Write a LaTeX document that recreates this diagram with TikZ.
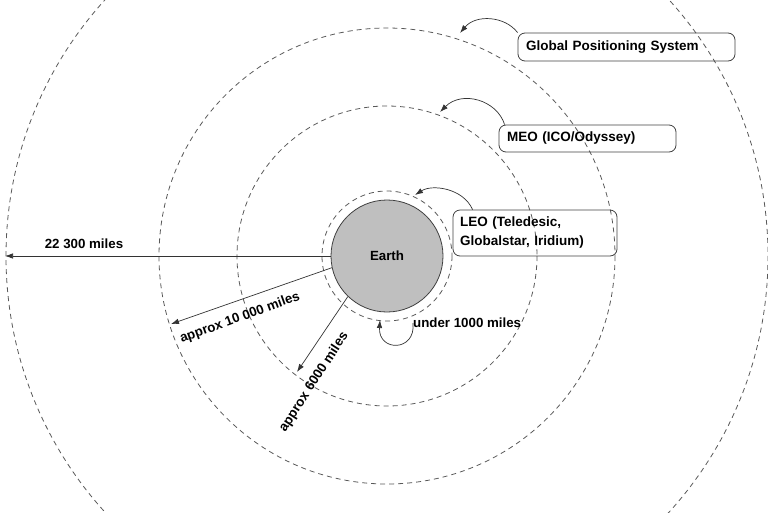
\documentclass[tikz,border=0pt]{standalone}
\usepackage{fontspec}
\setmainfont{Liberation Sans}
\usetikzlibrary{arrows.meta}
\begin{document}
\begin{tikzpicture}[x=1pt,y=-1pt,
  orbit/.style={draw=black!65, dash pattern=on 5pt off 4pt, line width=0.8pt},
  lbl/.style={font=\fontsize{13.3}{19}\selectfont\bfseries, inner sep=0pt},
  infobox/.style={draw=black!75, rounded corners=7pt, line width=0.8pt, align=left,
     font=\fontsize{13.5}{19}\selectfont\bfseries, inner ysep=0pt},
  conn/.style={draw=black!80, line width=0.7pt, -{Latex[length=8pt,width=5.5pt]}}
]
\useasboundingbox (0,0) rectangle (768,512);
% orbits
\draw[orbit] (387,256) circle[radius=65];
\draw[orbit] (387,256) circle[radius=150];
\draw[orbit] (387,256) circle[radius=228];
\draw[orbit] (387,256) circle[radius=381];
% earth
\node[circle, draw=black!75, line width=0.8pt, fill=black!25, minimum size=112pt, inner sep=0pt,
  font=\fontsize{13.3}{16}\selectfont\bfseries] (earth) at (387,256) {Earth};
% info boxes
\node[infobox, text width=201pt, inner xsep=8pt, minimum height=28pt] (gps) at (626.5,47) {Global Positioning System};
\node[infobox, text width=161pt, inner xsep=8pt, minimum height=27pt] (meo) at (587.5,138.5) {MEO (ICO/Odyssey)};
\node[infobox, text width=150pt, inner xsep=7pt, minimum height=46pt] (leo) at (535,233) {LEO (Teledesic,\\Globalstar, Iridium)};
% orbit target points
\coordinate (gpsT) at (460,33);
\coordinate (meoT) at (440,112);
\coordinate (leoT) at (415,195);
\coordinate (lowT) at (380,320);
\draw[conn] (gps.north west) .. controls (505,16) and (476,14) .. (gpsT);
\draw[conn] ([xshift=6pt]meo.north west) .. controls (497,100) and (462,90) .. (meoT);
\draw[conn] ([xshift=20pt]leo.north west) .. controls (463,188) and (432,184) .. (leoT);
% under 1000 miles
\node[lbl, anchor=west] (under) at (413,323) {under 1000 miles};
\draw[conn] (under.west) .. controls (416,352) and (378,352) .. (lowT);
% distance arrows
\coordinate (d22) at (5,256);
\coordinate (d10) at (171,324);
\coordinate (d6) at (297,372);
\draw[conn] (earth.west) -- (d22);
\draw[conn] (earth.192) -- (d10);
\draw[conn] (earth.226) -- (d6);
\node[lbl] (l22) at (84,244) {22 300 miles};
\node[lbl, rotate=20] (l10) at (240,318) {approx 10 000 miles};
\node[lbl, rotate=57] (l6) at (314,382) {approx 6000 miles};
\end{tikzpicture}
\end{document}
